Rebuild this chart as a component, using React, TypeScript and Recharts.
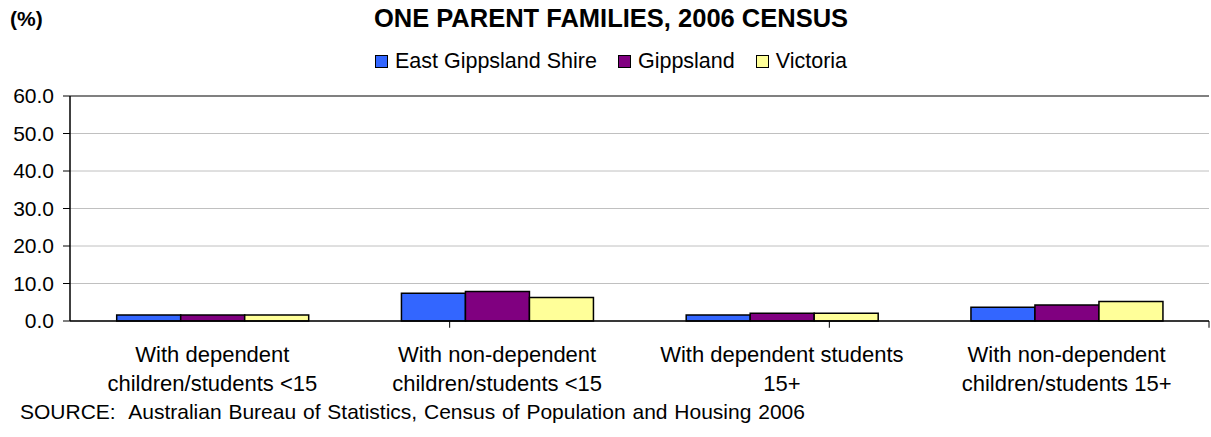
import { BarChart, Bar, XAxis, YAxis, CartesianGrid, Legend, ReferenceLine } from "recharts";

const categories = [
  ["With dependent", "children/students <15"],
  ["With non-dependent", "children/students <15"],
  ["With dependent students", "15+"],
  ["With non-dependent", "children/students 15+"],
];
const eastGippsland = [1.6, 7.4, 1.6, 3.7];
const gippsland = [1.6, 7.9, 2.1, 4.3];
const victoria = [1.6, 6.3, 2.1, 5.2];
const yTicks = [0, 10, 20, 30, 40, 50, 60];
const boundaries = [1, 2, 3, 4];

const seriesList = [
  { key: "east", name: "East Gippsland Shire", color: "#3366FF" },
  { key: "gipps", name: "Gippsland", color: "#800080" },
  { key: "vic", name: "Victoria", color: "#FFFF99" },
];

const data = categories.map((c, i) => ({
  cat: c.join(" "),
  east: eastGippsland[i],
  gipps: gippsland[i],
  vic: victoria[i],
}));

const font = "'Liberation Sans', Arial, sans-serif";

function CatTick(props: any) {
  const { x, y, payload, index } = props;
  const lines = categories[index] ?? [payload.value];
  return (
    <g transform={`translate(${x},${y})`}>
      {lines.map((l: string, i: number) => (
        <text key={i} x={0} y={33 + i * 29} textAnchor="middle" fontSize={22} fill="#000" fontFamily={font}>
          {l}
        </text>
      ))}
    </g>
  );
}

function LegendBox() {
  return (
    <div style={{ display: "flex", justifyContent: "center", fontFamily: font, fontSize: 21.5, color: "#000", height: 22, lineHeight: "22px" }}>
      {seriesList.map((s, i) => (
        <div key={s.key} style={{ display: "flex", alignItems: "center", marginLeft: i === 0 ? 0 : 21 }}>
          <span style={{ width: 11, height: 11, background: s.color, border: "1px solid #000", marginRight: 7, display: "inline-block" }} />
          <span>{s.name}</span>
        </div>
      ))}
    </div>
  );
}

export default function App() {
  return (
    <div style={{ position: "absolute", left: 0, top: 0, width: 1211, height: 437, background: "#fff", fontFamily: font }}>
      <div style={{ position: "absolute", left: 10, top: 7, fontSize: 21, fontWeight: "bold" }}>(%)</div>
      <div style={{ position: "absolute", left: 0, width: 1222, top: 4, textAlign: "center", fontSize: 25.5, fontWeight: "bold" }}>
        ONE PARENT FAMILIES, 2006 CENSUS
      </div>
      <BarChart
        width={1211}
        height={437}
        data={data}
        margin={{ top: 74, right: 2, left: 0, bottom: 0 }}
        barCategoryGap="16.4%"
        barGap={0}
      >
        <CartesianGrid vertical={false} stroke="#c0c0c0" />
        <XAxis
          dataKey="cat"
          height={116}
          tickLine={false}
          axisLine={{ stroke: "#000", strokeWidth: 1.5 }}
          tick={<CatTick />}
          interval={0}
        />
        <XAxis xAxisId="b" type="number" domain={[0, 4]} hide />
        <YAxis
          width={70}
          domain={[0, 60]}
          ticks={yTicks}
          tickFormatter={(v: number) => v.toFixed(1)}
          tick={{ fontSize: 21, fill: "#000", fontFamily: font }}
          tickSize={7}
          tickMargin={9}
          tickLine={{ stroke: "#000" }}
          axisLine={{ stroke: "#000", strokeWidth: 1.5 }}
        />
        <ReferenceLine y={60} stroke="#808080" strokeWidth={2} />
        <ReferenceLine xAxisId="b" x={4} stroke="#808080" strokeWidth={2} />
        {boundaries.map((b) => (
          <ReferenceLine
            key={b}
            xAxisId="b"
            segment={[{ x: b, y: 0 }, { x: b, y: -1.8 }]}
            stroke="#000"
            ifOverflow="visible"
          />
        ))}
        <Legend verticalAlign="top" height={22} content={() => <LegendBox />} wrapperStyle={{ top: 50, left: 0, width: 1222 }} />
        {seriesList.map((s) => (
          <Bar
            key={s.key}
            dataKey={s.key}
            name={s.name}
            fill={s.color}
            stroke="#000"
            strokeWidth={1.5}
            isAnimationActive={false}
          />
        ))}
      </BarChart>
      <div style={{ position: "absolute", left: 20, top: 400, fontSize: 21, wordSpacing: 1 }}>
        SOURCE:&nbsp; Australian Bureau of Statistics, Census of Population and Housing 2006
      </div>
    </div>
  );
}
